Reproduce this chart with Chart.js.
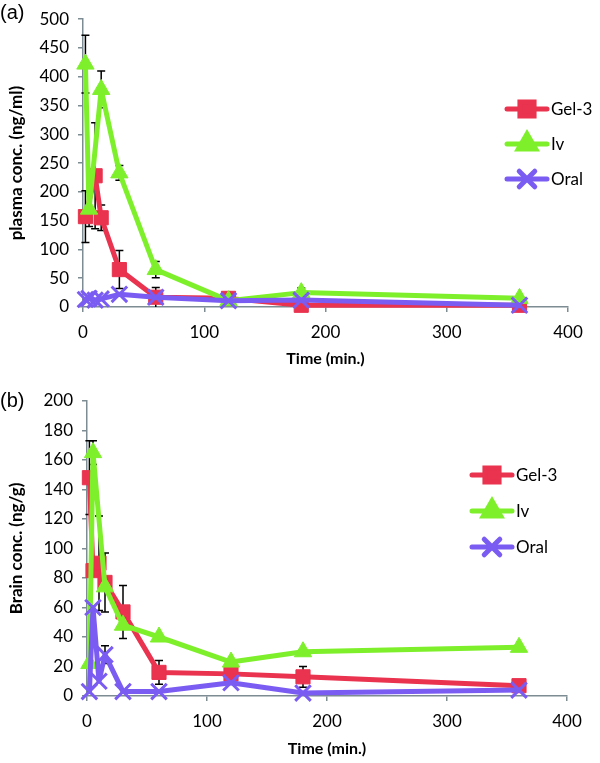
<!DOCTYPE html>
<html><head><meta charset="utf-8">
<script src="https://cdn.jsdelivr.net/npm/chart.js@4.4.0/dist/chart.umd.min.js"></script>
<style>
html,body{margin:0;padding:0;background:#fff;width:600px;height:763px;overflow:hidden}
.w{position:absolute;left:0;width:600px}
#w1{top:0;height:381px}
#w2{top:381px;height:382px}
</style></head><body>
<div class="w" id="w1"><canvas id="c1"></canvas></div>
<div class="w" id="w2"><canvas id="c2"></canvas></div>
<script>
// ---------- data ----------
const seriesNames = ['Gel-3', 'Iv', 'Oral'];
const xTicks = [0, 100, 200, 300, 400];
const plasmaYTicks = [0, 50, 100, 150, 200, 250, 300, 350, 400, 450, 500];
const brainYTicks = [0, 20, 40, 60, 80, 100, 120, 140, 160, 180, 200];

// (a) plasma conc. (ng/ml)
const gelPlasmaTime  = [2, 10, 15, 30, 60, 120, 180, 360];
const gelPlasma      = [157, 228, 155, 65, 17, 15, 3, 3];
const gelPlasmaErr   = [45, 92, 22, 33, 17, 10, 0, 0];
const ivPlasmaTime   = [2, 5, 15, 30, 60, 120, 180, 360];
const ivPlasma       = [422, 170, 378, 233, 65, 11, 25, 15];
const ivPlasmaErr    = [50, 30, 32, 13, 14, 0, 8, 0];
const oralPlasmaTime = [2, 5, 10, 15, 30, 60, 120, 180, 360];
const oralPlasma     = [13, 15, 12, 14, 22, 17, 11, 12, 3];
const oralPlasmaErr  = [0, 0, 0, 0, 0, 0, 0, 0, 0];

// (b) Brain conc. (ng/g)
const gelBrainTime  = [2, 5, 10, 15, 30, 60, 120, 180, 360];
const gelBrain      = [148, 85, 90, 77, 57, 16, 15, 13, 7];
const gelBrainErr   = [25, 0, 32, 20, 18, 8, 0, 7, 0];
const ivBrainTime   = [2, 5, 15, 30, 60, 120, 180, 360];
const ivBrain       = [22, 165, 74, 48, 40, 23, 30, 33];
const ivBrainErr    = [0, 8, 0, 0, 0, 0, 0, 0];
const oralBrainTime = [2, 5, 10, 15, 30, 60, 120, 180, 360];
const oralBrain     = [3, 60, 10, 28, 3, 3, 9, 2, 4];
const oralBrainErr  = [0, 0, 0, 6, 0, 0, 0, 0, 0];

// ---------- styles ----------
const COLORS = ['#e9334f', '#7ef02b', '#7a5cf2'];
const STYLES = [
  {pointStyle: 'rect', radius: 10, borderWidth: 1},
  {pointStyle: 'triangle', radius: 10, borderWidth: 1},
  {pointStyle: 'crossRot', radius: 11, borderWidth: 3}
];
const AXIS = '#7d8b93';

function pts(t, v) { return t.map((x, i) => ({x: x, y: v[i]})); }

function makeDatasets(times, vals, errs) {
  return seriesNames.map((n, i) => ({
    label: n,
    data: pts(times[i], vals[i]),
    errors: errs[i],
    borderColor: COLORS[i],
    backgroundColor: COLORS[i],
    pointBackgroundColor: COLORS[i],
    pointBorderColor: COLORS[i],
    pointStyle: STYLES[i].pointStyle,
    pointRadius: STYLES[i].radius,
    pointBorderWidth: STYLES[i].borderWidth,
    borderWidth: 5,
    borderJoinStyle: 'round',
    borderCapStyle: 'round',
    tension: 0,
    showLine: true,
    clip: false,
    order: 3 - i
  }));
}

const errorBars = {
  id: 'errorBars',
  beforeDatasetsDraw(chart) {
    const ctx = chart.ctx, ys = chart.scales.y;
    ctx.save();
    ctx.strokeStyle = '#000';
    ctx.lineWidth = 1.5;
    chart.data.datasets.forEach((ds, di) => {
      const meta = chart.getDatasetMeta(di);
      meta.data.forEach((el, i) => {
        const e = ds.errors[i];
        if (!e) return;
        const v = ds.data[i].y;
        const x = el.x;
        const yt = ys.getPixelForValue(v + e);
        const yb = ys.getPixelForValue(Math.max(0, v - e));
        ctx.beginPath();
        ctx.moveTo(x, yt); ctx.lineTo(x, yb);
        ctx.moveTo(x - 4, yt); ctx.lineTo(x + 4, yt);
        if (v - e > 0) { ctx.moveTo(x - 4, yb); ctx.lineTo(x + 4, yb); }
        ctx.stroke();
      });
    });
    ctx.restore();
  }
};

const customLegend = {
  id: 'customLegend',
  afterDraw(chart, args, opts) {
    const ctx = chart.ctx;
    ctx.save();
    chart.data.datasets.forEach((ds, i) => {
      const y = opts.y0 + i * opts.dy;
      ctx.strokeStyle = COLORS[i];
      ctx.lineWidth = 5;
      ctx.lineCap = 'round';
      ctx.beginPath();
      ctx.moveTo(opts.x, y); ctx.lineTo(opts.x + 40, y);
      ctx.stroke();
      ctx.fillStyle = COLORS[i];
      ctx.strokeStyle = COLORS[i];
      Chart.helpers.drawPoint(ctx, {
        pointStyle: STYLES[i].pointStyle,
        radius: STYLES[i].radius,
        borderWidth: STYLES[i].borderWidth,
        rotation: 0
      }, opts.x + 20, y);
      ctx.fillStyle = '#000';
      ctx.font = '17px Lato';
      ctx.textBaseline = 'middle';
      ctx.textAlign = 'left';
      ctx.fillText(ds.label, opts.x + 44, y + 1);
    });
    if (opts.tag) {
      ctx.font = '20px "Liberation Sans"';
      ctx.fillStyle = '#000';
      ctx.textBaseline = 'middle';
      ctx.textAlign = 'left';
      ctx.fillText(opts.tag, opts.tagX, opts.tagY);
    }
    ctx.restore();
  }
};

function makeChart(id, datasets, cfg) {
  return new Chart(document.getElementById(id), {
    type: 'scatter',
    data: {datasets: datasets},
    plugins: [errorBars, customLegend],
    options: {
      responsive: true,
      maintainAspectRatio: false,
      animation: false,
      devicePixelRatio: 1,
      layout: {padding: {left: 4, right: cfg.padRight, top: cfg.padTop, bottom: 0}},
      plugins: {
        legend: {display: false},
        tooltip: {enabled: false},
        customLegend: cfg.legend
      },
      scales: {
        x: {
          type: 'linear', min: 0, max: 400,
          afterBuildTicks: s => { s.ticks = xTicks.map(v => ({value: v})); },
          afterFit: s => { s.height = cfg.xHeight; },
          grid: {drawOnChartArea: false, drawTicks: true, tickLength: 5, color: AXIS, lineWidth: 1.5},
          border: {color: AXIS, width: 1.5},
          ticks: {color: '#000', font: {family: 'Lato', size: 17}, padding: 10, maxRotation: 0},
          title: {display: true, text: 'Time (min.)', color: '#000',
                  font: {family: 'Lato', size: 16, weight: 'bold'}, padding: {top: 2, bottom: cfg.xTitlePad}}
        },
        y: {
          type: 'linear', min: cfg.yTicks[0], max: cfg.yTicks[cfg.yTicks.length - 1],
          afterBuildTicks: s => { s.ticks = cfg.yTicks.map(v => ({value: v})); },
          afterFit: s => { s.width = cfg.yWidth; },
          grid: {drawOnChartArea: false, drawTicks: true, tickLength: 5, color: AXIS, lineWidth: 1.5},
          border: {color: AXIS, width: 1.5},
          ticks: {color: '#000', font: {family: 'Lato', size: 17}, padding: 9},
          title: {display: true, text: cfg.yTitle, color: '#000',
                  font: {family: 'Lato', size: 17, weight: 'bold'}, padding: {top: 2, bottom: 2}}
        }
      }
    }
  });
}

function draw() {
  makeChart('c1',
    makeDatasets([gelPlasmaTime, ivPlasmaTime, oralPlasmaTime],
                 [gelPlasma, ivPlasma, oralPlasma],
                 [gelPlasmaErr, ivPlasmaErr, oralPlasmaErr]),
    {padRight: 32, padTop: 14, xHeight: 74, yWidth: 79, xTitlePad: 13,
     yTicks: plasmaYTicks, yTitle: 'plasma conc. (ng/ml)',
     legend: {x: 507, y0: 109, dy: 35, tag: '(a)', tagX: 0, tagY: 13}});
  makeChart('c2',
    makeDatasets([gelBrainTime, ivBrainTime, oralBrainTime],
                 [gelBrain, ivBrain, oralBrain],
                 [gelBrainErr, ivBrainErr, oralBrainErr]),
    {padRight: 33, padTop: 20, xHeight: 67, yWidth: 83, xTitlePad: 5,
     yTicks: brainYTicks, yTitle: 'Brain conc. (ng/g)',
     legend: {x: 472, y0: 94, dy: 36, tag: '(b)', tagX: 0, tagY: 20}});
}

const fontsReady = Promise.all([
  document.fonts.load('17px Lato'),
  document.fonts.load('bold 16px Lato'),
  document.fonts.load('20px "Liberation Sans"')
]).catch(() => {});
Promise.race([fontsReady, new Promise(r => setTimeout(r, 500))]).then(draw);
</script>
</body></html>
